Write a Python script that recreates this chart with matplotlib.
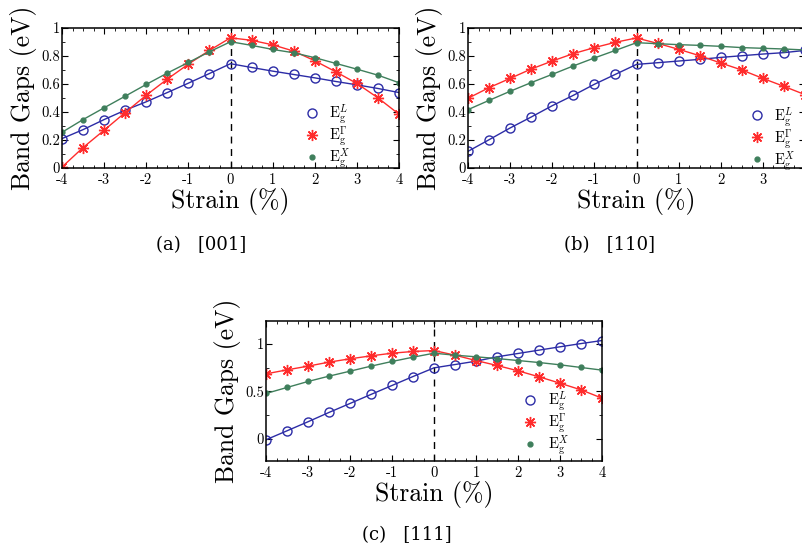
import numpy as np
import matplotlib
matplotlib.use('Agg')
import matplotlib.pyplot as plt
from matplotlib.lines import Line2D
from matplotlib.ticker import MultipleLocator, StrMethodFormatter

plt.rcParams['font.family'] = ['cmr10', 'DejaVu Serif']
plt.rcParams['mathtext.fontset'] = 'cm'
plt.rcParams['axes.formatter.use_mathtext'] = True
plt.rcParams['axes.unicode_minus'] = False

strain = [-4, -3.5, -3, -2.5, -2, -1.5, -1, -0.5, 0, 0.5, 1, 1.5, 2, 2.5, 3, 3.5, 4]

# (a) [001]
eL_001 = [0.21, 0.274, 0.346, 0.413, 0.473, 0.539, 0.606, 0.675, 0.745,
          0.718, 0.692, 0.668, 0.644, 0.618, 0.594, 0.568, 0.539]
eG_001 = [0.007, 0.146, 0.27, 0.396, 0.52, 0.635, 0.742, 0.84, 0.93,
          0.912, 0.88, 0.835, 0.766, 0.687, 0.604, 0.501, 0.384]
eX_001 = [0.255, 0.346, 0.43, 0.513, 0.597, 0.678, 0.754, 0.83, 0.902,
          0.876, 0.847, 0.823, 0.788, 0.747, 0.706, 0.663, 0.609]

# (b) [110]
eL_110 = [0.119, 0.202, 0.286, 0.364, 0.445, 0.519, 0.598, 0.669, 0.74,
          0.752, 0.764, 0.776, 0.79, 0.802, 0.814, 0.824, 0.84]
eG_110 = [0.498, 0.574, 0.64, 0.707, 0.764, 0.817, 0.86, 0.898, 0.929,
          0.89, 0.848, 0.802, 0.75, 0.7, 0.64, 0.583, 0.524]
eX_110 = [0.417, 0.483, 0.548, 0.61, 0.669, 0.729, 0.786, 0.84, 0.895,
          0.888, 0.881, 0.876, 0.869, 0.86, 0.855, 0.85, 0.843]

# (c) [111]
eL_111 = [-0.007, 0.087, 0.182, 0.28, 0.374, 0.469, 0.563, 0.657, 0.748,
          0.783, 0.818, 0.864, 0.899, 0.934, 0.969, 1.003, 1.035]
eG_111 = [0.685, 0.727, 0.766, 0.808, 0.843, 0.874, 0.902, 0.92, 0.93,
          0.881, 0.825, 0.773, 0.717, 0.654, 0.587, 0.517, 0.43]
eX_111 = [0.479, 0.542, 0.605, 0.661, 0.713, 0.766, 0.815, 0.86, 0.902,
          0.881, 0.864, 0.846, 0.825, 0.804, 0.78, 0.752, 0.724]

captions = ['(a)   [001]', '(b)   [110]', '(c)   [111]']
labels = [r'$\mathrm{E}_\mathrm{g}^{L}$', r'$\mathrm{E}_\mathrm{g}^{\Gamma}$',
          r'$\mathrm{E}_\mathrm{g}^{X}$']

blue = '#2c2ca6'
red = '#ff2c2c'
green = '#3f7f5c'

W, H = 802, 550
fig = plt.figure(figsize=(W / 100, H / 100), dpi=100)

styles = [dict(marker='o', color=blue, mfc='none', ms=6.5, mew=1.0),
          dict(marker=(8, 2, 0), color=red, ms=8, mew=1.0),
          dict(marker='o', color=green, ms=3.5)]


def make_axes(left, top, right, bottom):
    return fig.add_axes([left / W, 1 - bottom / H, (right - left) / W, (bottom - top) / H])


def draw(ax, eL, eG, eX, ylim, ymajor, yminor, leg_pos):
    ax.axvline(0, color='k', ls=(0, (5, 4)), lw=1.0, zorder=1)
    for ys, st in zip([eL, eG, eX], styles):
        ax.plot(strain, ys, '-', lw=1.0, **st)
    ax.set_xlim(-4, 4)
    ax.set_ylim(*ylim)
    ax.xaxis.set_major_locator(MultipleLocator(1))
    ax.xaxis.set_minor_locator(MultipleLocator(0.25))
    ax.yaxis.set_major_locator(MultipleLocator(ymajor))
    ax.yaxis.set_minor_locator(MultipleLocator(yminor))
    ax.xaxis.set_major_formatter(StrMethodFormatter('{x:g}'))
    ax.yaxis.set_major_formatter(StrMethodFormatter('{x:g}'))
    ax.tick_params(which='both', direction='in', top=True, right=True, labelsize=10.5)
    ax.tick_params(axis='y', pad=1.5)
    ax.tick_params(which='major', length=4)
    ax.tick_params(which='minor', length=2)
    for s in ax.spines.values():
        s.set_linewidth(1.1)
    ax.set_ylabel('Band Gaps (eV)', fontsize=18.5)
    ax.set_xlabel('Strain (%)', fontsize=18.5)
    ax.yaxis.set_label_coords(-0.075, 0.5)
    ax.xaxis.set_label_coords(0.5, -0.14)
    handles = [Line2D([], [], ls='none', **st) for st in styles]
    ax.legend(handles, labels, loc='upper left', bbox_to_anchor=leg_pos, frameon=False,
              fontsize=10.5, handlelength=1.0, handletextpad=0.7, borderpad=0,
              labelspacing=-0.1, borderaxespad=0)


ax_a = make_axes(62, 28, 399, 168)
draw(ax_a, eL_001, eG_001, eX_001, (0, 1), 0.2, 0.1, (0.72, 0.47))
ax_b = make_axes(468, 28, 805, 168)
draw(ax_b, eL_110, eG_110, eX_110, (0, 1), 0.2, 0.1, (0.835, 0.45))
ax_c = make_axes(266, 321, 602, 461)
draw(ax_c, eL_111, eG_111, eX_111, (-0.23, 1.24), 0.5, 0.25, (0.765, 0.51))

fig.text(201 / W, 1 - 245 / H, captions[0], ha='center', va='center', fontsize=13, family='DejaVu Serif')
fig.text(609 / W, 1 - 245 / H, captions[1], ha='center', va='center', fontsize=13, family='DejaVu Serif')
fig.text(407 / W, 1 - 535 / H, captions[2], ha='center', va='center', fontsize=13, family='DejaVu Serif')

fig.savefig('out.png', dpi=100)
